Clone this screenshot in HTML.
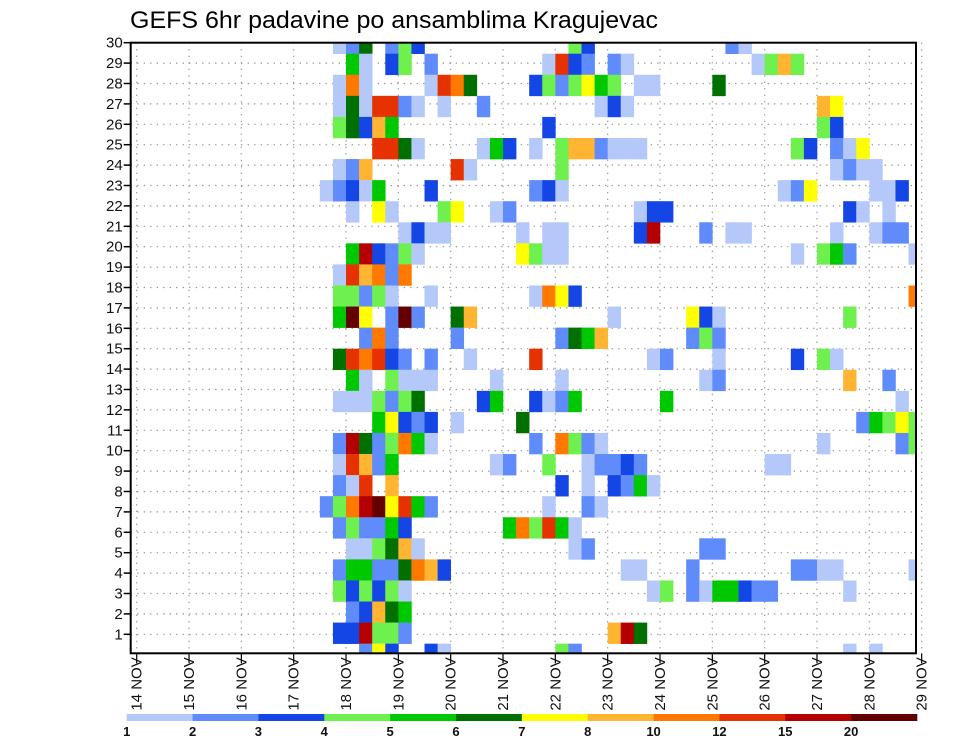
<!DOCTYPE html>
<html><head><meta charset="utf-8">
<style>
html,body{margin:0;padding:0;background:#fff;}
svg{display:block;font-family:"Liberation Sans",sans-serif;}
</style></head>
<body>
<svg id="chart" width="960" height="742" viewBox="0 0 960 742">
<text x="130" y="28" font-size="24" textLength="528" lengthAdjust="spacingAndGlyphs" fill="#000">GEFS 6hr padavine po ansamblima Kragujevac</text>
<defs><clipPath id="plotclip"><rect x="130.7" y="42.7" width="785.3" height="610.6"/></clipPath></defs>
<rect x="130.7" y="42.7" width="785.3" height="610.6" fill="#fff"/>
<g id="grid"></g>
<g id="cells" clip-path="url(#plotclip)"></g>
<rect x="130.7" y="42.7" width="785.3" height="610.6" fill="none" stroke="#000" stroke-width="2"/>
<g id="yaxis"></g>
<g id="xaxis"></g>
<g id="legend"></g>
</svg>
<script>
// ---- data ----
const members = [30,29,28,27,26,25,24,23,22,21,20,19,18,17,16,15,14,13,12,11,10,9,8,7,6,5,4,3,2,1];
const dayLabels = ["14 NOV","15 NOV","16 NOV","17 NOV","18 NOV","19 NOV","20 NOV","21 NOV","22 NOV","23 NOV","24 NOV","25 NOV","26 NOV","27 NOV","28 NOV","29 NOV"];
const levelLabels = ["1","2","3","4","5","6","7","8","10","12","15","20"];
const levelColors = ["#b4c8fa","#5f8cfa","#1446e6","#6ef04e","#00c800","#007000","#ffff00","#ffb432","#ff7800","#e63200","#b40000","#640000"];
const levelCodes = "abcdefghijkl";
// cell data per member row (top to bottom): "timeIndex(6h steps from 14 NOV 00Z)+levelCode"
const cellRows = [
"15a,16b,17f,19b,20d,21c,33d,34c,45b,46a",
"16e,17a,19c,20d,22b,31a,32j,33c,34b,36b,37a,47a,48d,49h,50d",
"15a,16i,17a,22a,23j,24i,25f,30c,31d,32b,33d,34g,35e,36d,38a,39a,44f",
"15a,16f,17a,18j,19j,20b,21a,23a,26b,35a,36c,37a,52h,53g",
"15d,16f,17c,18h,19e,31c,52d,53c",
"18j,19j,20f,21a,26a,27e,28c,30a,32d,33h,34h,35b,36a,37a,38a,50d,51c,53b,54a,55g",
"15a,16b,17h,24j,25a,32d,53a,54b,55a,56a",
"14a,15b,16c,17a,18e,22c,30b,31c,32a,49a,50b,51g,56a,57a,58c",
"16a,18g,19a,23d,24g,27a,28b,38a,39c,40c,54c,55a,57a",
"20a,21c,22a,23a,29a,31a,32a,38c,39k,43b,45a,46a,53a,56a,57b,58b",
"16e,17k,18c,19b,20d,21a,29g,30d,31a,32a,50a,52d,53e,54b,59a",
"15a,16j,17h,18i,19b,20i",
"15d,16d,17b,18d,19a,22a,30a,31i,32g,33c,59i",
"15e,16l,17g,19b,20l,21b,24f,25h,36a,42g,43c,44a,54d",
"17b,18i,19b,24b,32b,33f,34e,35h,42b,43d,44b",
"15f,16j,17i,18j,19c,20b,22b,25a,30j,39a,40b,44a,50c,52d,53a",
"16e,17a,19d,20a,21a,22a,27a,32a,43a,44b,54h,57b",
"15a,16a,17a,18d,19b,20d,21f,26c,27e,30c,31a,32b,33e,40e,58a",
"18e,19g,20c,21b,22c,24a,29f,55b,56e,57d,58g,59d",
"15b,16k,17f,18b,19d,20i,21e,22a,30b,32i,33d,34b,35a,52a,58b,59d",
"15a,16j,17h,18b,19e,27a,28b,31d,34a,35b,36b,37c,38b,48a,49a",
"15b,16a,17j,19h,32c,34a,36c,37b,38e,39a",
"14b,15d,16i,17k,18l,19g,20j,21e,22b,31a,34b,35a",
"15b,16d,17b,18b,19e,20c,28e,29i,30d,31j,32e,33a",
"16a,17a,18d,19f,20h,21a,33a,34b,43b,44b",
"15b,16e,17e,18b,19b,20f,21i,22h,23c,37a,38a,42b,50b,51b,52a,53a,59a",
"15d,16c,17d,18c,19d,20a,39a,40d,42b,43a,44e,45e,46c,47b,48b,54a",
"16b,17c,18h,19f,20e",
"15c,16c,17k,18d,19d,20b,36h,37k,38f",
"17b,18g,19c,22c,23a,32d,33b,54a,56a"
];
</script>
<script>
const NS="http://www.w3.org/2000/svg";
const PL=130.7, PR=916, PT=42.7, PB=653.3;
const X0=136.7, DAYW=52.33, STEPW=DAYW/4;
function xTime(t){return X0+t*STEPW;}
function xDay(d){return X0+d*DAYW;}
function yLabel(m){return PT+(30-m)*20.4;}
function yCellTop(m){const i=30-m; return 53.7+21.07*(i-1);}
const CELLH=21.07;
function mk(tag,attrs,parent){const e=document.createElementNS(NS,tag);for(const k in attrs)e.setAttribute(k,attrs[k]);parent.appendChild(e);return e;}

const grid=document.getElementById('grid');
members.forEach(m=>{
  const ln=mk('line',{x1:PL,x2:PR,y1:yLabel(m),y2:yLabel(m),stroke:'#888','stroke-width':1.2,'stroke-dasharray':'1.2 5.3'},grid);
  
  
});
dayLabels.forEach((d,k)=>{
  const ln=mk('line',{x1:xDay(k),x2:xDay(k),y1:PT,y2:PB,stroke:'#888','stroke-width':1.2,'stroke-dasharray':'1.2 5.3'},grid);
  
  
});

const cells=document.getElementById('cells');
cellRows.forEach((row,ri)=>{
  const m=members[ri];
  row.split(',').forEach(tok=>{
    const t=parseInt(tok,10);
    const lev=levelCodes.indexOf(tok.slice(-1));
    const r=mk('rect',{x:xTime(t),y:yCellTop(m),width:STEPW+0.3,height:CELLH+0.3,fill:levelColors[lev]},cells);
    
    
  });
});

const ya=document.getElementById('yaxis');
members.forEach(m=>{
  const y=yLabel(m);
  const tk=mk('line',{x1:PL-7,x2:PL,y1:y,y2:y,stroke:'#000','stroke-width':1.5},ya);
  
  
  const tx=mk('text',{x:PL-8,y:y+5,'font-size':15,'text-anchor':'end',fill:'#111'},ya);
  tx.textContent=m;
  
  
});

const xa=document.getElementById('xaxis');
dayLabels.forEach((d,k)=>{
  const x=xDay(k);
  const tk=mk('line',{x1:x,x2:x,y1:PB,y2:PB+10,stroke:'#000','stroke-width':1.2},xa);
  
  
  const tx=mk('text',{x:0,y:0,'font-size':15,'text-anchor':'end',fill:'#111',transform:'translate('+(x+5)+','+(PB+4)+') rotate(-90)'},xa);
  tx.textContent=d;
  
  
});

const lg=document.getElementById('legend');
const LX0=126.7, LX1=917, LY=714, LH=7;
const segW=(LX1-LX0)/levelColors.length;
levelColors.forEach((c,i)=>{
  const r=mk('rect',{x:LX0+i*segW,y:LY,width:segW+0.3,height:LH,fill:c},lg);
  
  
});
levelLabels.forEach((l,i)=>{
  const tx=mk('text',{x:LX0+i*segW,y:736,'font-size':13,'font-weight':'bold','text-anchor':'middle',fill:'#111'},lg);
  tx.textContent=l;
  
  
});
</script>
</body></html>
